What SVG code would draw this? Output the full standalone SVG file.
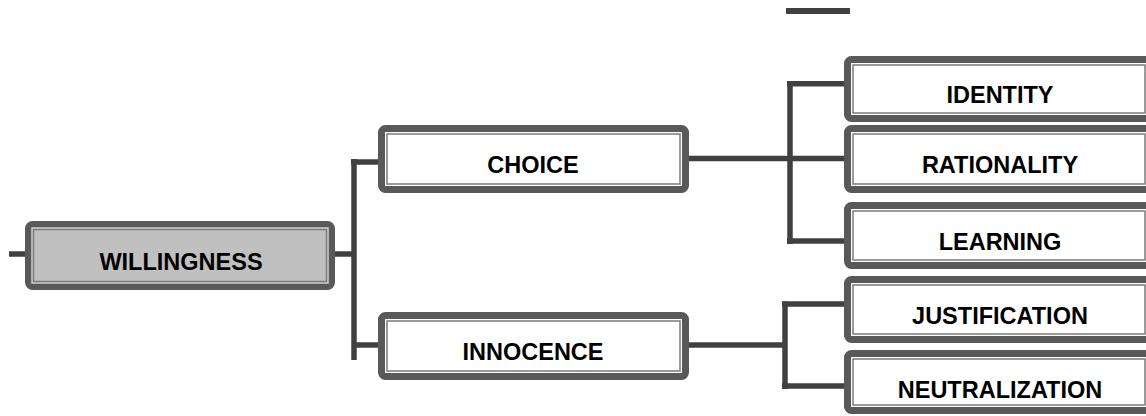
<svg xmlns="http://www.w3.org/2000/svg" width="1146" height="416" viewBox="0 0 1146 416">
<style>
.frame{stroke:#595959;stroke-width:7;}
.inner{fill:none;stroke:#7a7a7a;stroke-width:1.5;}
.white{fill:#ffffff;}
.gray{fill:#c0c0c0;}
.lbl{font-family:"Liberation Sans",Arial,sans-serif;font-weight:bold;font-size:23.5px;fill:#000;text-anchor:middle;}
.conn{stroke:#404040;stroke-width:5.5;fill:none;stroke-linecap:butt;stroke-linejoin:miter;}
</style>
<rect width="1146" height="416" fill="#ffffff"/>
<rect x="786" y="8" width="64" height="6" fill="#404040"/>
<g id="connectors">
<path class="conn" d="M9 254 H26"/>
<path class="conn" d="M334 254 H355"/>
<path class="conn" d="M354 159 V360"/>
<path class="conn" d="M351 162 H379"/>
<path class="conn" d="M354 345 H379"/>
<path class="conn" d="M688 158.5 H853"/>
<path class="conn" d="M790 81 V244"/>
<path class="conn" d="M787 83.7 H847"/>
<path class="conn" d="M787 241 H847"/>
<path class="conn" d="M688 345 H785"/>
<path class="conn" d="M785 301.5 V389"/>
<path class="conn" d="M782 304 H847"/>
<path class="conn" d="M782 386 H853"/>
</g>
<g id="willingness">
<rect class="frame gray" x="28.5" y="224.5" width="303" height="62" rx="4"/>
<rect x="32" y="228" width="296" height="55" fill="none" stroke="#d0d0d0" stroke-width="1.5"/>
<rect class="inner" x="33.5" y="229.5" width="293" height="52"/>
<text class="lbl" x="181" y="270">WILLINGNESS</text>
</g>
<g id="choice">
<rect class="frame white" x="381.5" y="128.5" width="304" height="61" rx="4"/>
<rect class="inner" x="387" y="134" width="293" height="50"/>
<text class="lbl" x="533" y="173">CHOICE</text>
</g>
<g id="innocence">
<rect class="frame white" x="381.5" y="315.5" width="304" height="61" rx="4"/>
<rect class="inner" x="387" y="321" width="293" height="50"/>
<text class="lbl" x="533" y="360">INNOCENCE</text>
</g>
<g id="identity">
<rect class="frame white" x="847.5" y="59.5" width="303" height="59" rx="4"/>
<rect class="inner" x="853" y="65" width="292" height="48"/>
<text class="lbl" x="1000" y="103">IDENTITY</text>
</g>
<g id="rationality">
<rect class="frame white" x="847.5" y="128.5" width="303" height="61" rx="4"/>
<rect class="inner" x="853" y="134" width="292" height="50"/>
<text class="lbl" x="1000" y="173">RATIONALITY</text>
</g>
<g id="learning">
<rect class="frame white" x="847.5" y="205.5" width="303" height="60" rx="4"/>
<rect class="inner" x="853" y="211" width="292" height="49"/>
<text class="lbl" x="1000" y="250">LEARNING</text>
</g>
<g id="justification">
<rect class="frame white" x="847.5" y="279.5" width="303" height="60" rx="4"/>
<rect class="inner" x="853" y="285" width="292" height="49"/>
<text class="lbl" x="1000" y="324">JUSTIFICATION</text>
</g>
<g id="neutralization">
<rect class="frame white" x="847.5" y="353.5" width="303" height="57" rx="4"/>
<rect class="inner" x="853" y="359" width="292" height="46"/>
<text class="lbl" x="1000" y="398">NEUTRALIZATION</text>
</g>
</svg>
